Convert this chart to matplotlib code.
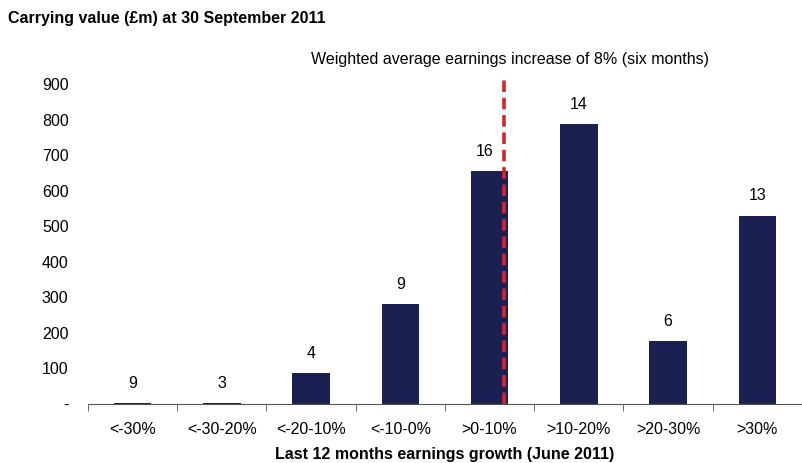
import numpy as np
import matplotlib.pyplot as plt

plt.rcParams['font.family'] = ['Liberation Sans', 'DejaVu Sans']

categories = ['<-30%', '<-30-20%', '<-20-10%', '<-10-0%', '>0-10%',
              '>10-20%', '>20-30%', '>30%']
carrying_value = [3, 3, 87, 280, 655, 787, 177, 529]
counts = [9, 3, 4, 9, 16, 14, 6, 13]
avg_line_pos = 4.16  # 8% weighted average, inside the >0-10% bucket

bar_color = '#1a2152'
line_color = '#d8232f'
fs = 11.5

fig = plt.figure(figsize=(8.03, 4.63), dpi=100)
ax = fig.add_axes([0.1096, 0.1274, 0.889, 0.768])

x = np.arange(len(categories))
ax.bar(x, carrying_value, width=0.42, color=bar_color, zorder=2)

for xi, v, n in zip(x, carrying_value, counts):
    dx = -0.05 if n == 16 else 0
    ax.text(xi + dx, v + 35, str(n), ha='center', va='bottom', fontsize=fs)

ax.plot([avg_line_pos, avg_line_pos], [0, 925], color=line_color,
        linestyle=(0, (3.2, 1.6)), linewidth=2.6, zorder=3)
ax.text(avg_line_pos + 0.07, 970, 'Weighted average earnings increase of 8% (six months)',
        ha='center', va='center', fontsize=fs)

ax.set_xlim(-0.5, len(categories) - 0.5)
ax.set_ylim(0, 1000)
ax.set_yticks(range(0, 1000, 100))
ax.set_yticklabels(['-'] + [str(v) for v in range(100, 1000, 100)], fontsize=fs)
ax.tick_params(axis='y', length=0, pad=14)

ax.set_xticks(x)
ax.set_xticklabels(categories, fontsize=fs)
ax.set_xticks(np.arange(-0.5, len(categories)), minor=True)
ax.tick_params(axis='x', which='major', length=0, pad=13)
ax.tick_params(axis='x', which='minor', length=5, direction='out', color='#555555')

for side in ['top', 'right', 'left']:
    ax.spines[side].set_visible(False)
ax.spines['bottom'].set_color('#555555')

ax.set_xlabel('Last 12 months earnings growth (June 2011)', fontsize=fs,
              fontweight='bold', labelpad=7)
fig.text(0.01, 0.96, 'Carrying value (£m) at 30 September 2011', fontsize=fs,
         fontweight='bold', va='center')

plt.savefig('out.png', dpi=100, facecolor='white')
